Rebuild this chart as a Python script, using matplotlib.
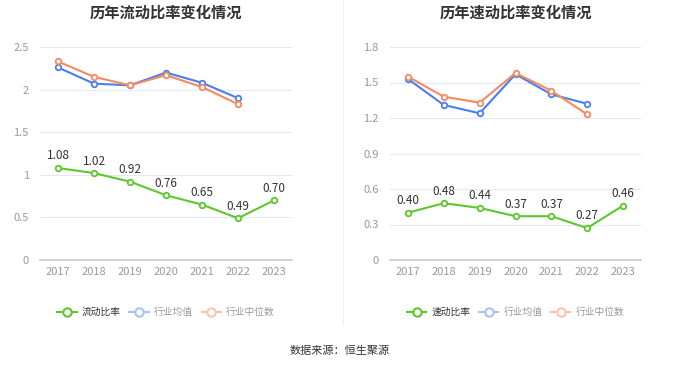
import matplotlib
matplotlib.use("Agg")
import matplotlib.pyplot as plt
from matplotlib.lines import Line2D

plt.rcParams['font.family'] = ['Noto Sans CJK SC', 'DejaVu Sans']

# Data
years = ['2017', '2018', '2019', '2020', '2021', '2022', '2023']

current_ratio = [1.08, 1.02, 0.92, 0.76, 0.65, 0.49, 0.70]
current_mean = [2.26, 2.07, 2.05, 2.20, 2.08, 1.90]
current_median = [2.33, 2.15, 2.05, 2.17, 2.03, 1.83]

quick_ratio = [0.40, 0.48, 0.44, 0.37, 0.37, 0.27, 0.46]
quick_mean = [1.53, 1.31, 1.24, 1.57, 1.40, 1.32]
quick_median = [1.55, 1.38, 1.33, 1.58, 1.43, 1.23]

GREEN = '#5cc72e'
BLUE = '#4a7ef0'
ORANGE = '#f7895f'
BLUE_LIGHT = '#a9c1f7'
ORANGE_LIGHT = '#fbc2ad'


def draw_panel(ax, title, main, mean, median, yticks, ylabels, name):
    x = list(range(len(years)))
    ax.plot(x[:len(mean)], mean, color=BLUE, lw=1.5, marker='o', ms=4,
            mfc='white', mec=BLUE, mew=1.3, zorder=3)
    ax.plot(x[:len(median)], median, color=ORANGE, lw=1.5, marker='o', ms=4,
            mfc='white', mec=ORANGE, mew=1.3, zorder=3)
    ax.plot(x, main, color=GREEN, lw=1.5, marker='o', ms=4,
            mfc='white', mec=GREEN, mew=1.3, zorder=4)
    for xi, v in zip(x, main):
        ax.annotate(f'{v:.2f}', (xi, v), xytext=(0, 4), textcoords='offset points',
                    ha='center', va='bottom', fontsize=8.5, color='#333333')

    ax.set_xlim(-0.5, len(years) - 0.5)
    ax.set_ylim(yticks[0], yticks[-1])
    ax.set_xticks(x)
    ax.set_xticklabels(years)
    ax.set_yticks(yticks)
    ax.set_yticklabels(ylabels)
    ax.tick_params(axis='both', length=0, labelsize=8, labelcolor='#999999')
    ax.tick_params(axis='x', pad=5)
    ax.tick_params(axis='y', pad=8)
    ax.grid(axis='y', color='#e3e8f4', lw=0.8)
    ax.set_axisbelow(True)
    for s in ['top', 'right', 'left']:
        ax.spines[s].set_visible(False)
    ax.spines['bottom'].set_color('#c8c8c8')
    ax.spines['bottom'].set_linewidth(1.2)
    ax.set_title(title, fontsize=11, fontweight='bold', color='#333333', pad=21)

    handles = [
        Line2D([], [], color=GREEN, lw=1.5, marker='o', ms=6, mfc='white', mec=GREEN, mew=1.5),
        Line2D([], [], color=BLUE_LIGHT, lw=1.5, marker='o', ms=6, mfc='white', mec=BLUE_LIGHT, mew=1.5),
        Line2D([], [], color=ORANGE_LIGHT, lw=1.5, marker='o', ms=6, mfc='white', mec=ORANGE_LIGHT, mew=1.5),
    ]
    pos = ax.get_position()
    leg = ax.figure.legend(handles, [name, '行业均值', '行业中位数'], ncol=3,
                           loc='center', bbox_to_anchor=(pos.x0 + pos.width / 2, 1 - 312 / 367),
                           frameon=False, fontsize=7, handlelength=2.0,
                           handletextpad=0.5, columnspacing=0.9)
    for t, c in zip(leg.get_texts(), ['#333333', '#999999', '#999999']):
        t.set_color(c)


fig = plt.figure(figsize=(6.8, 3.67), dpi=100)
ax1 = fig.add_axes([40 / 680, 107 / 367, 252 / 680, 213 / 367])
ax2 = fig.add_axes([390 / 680, 107 / 367, 251 / 680, 213 / 367])

draw_panel(ax1, '历年流动比率变化情况', current_ratio, current_mean, current_median,
           [0, 0.5, 1, 1.5, 2, 2.5], ['0', '0.5', '1', '1.5', '2', '2.5'], '流动比率')
draw_panel(ax2, '历年速动比率变化情况', quick_ratio, quick_mean, quick_median,
           [0, 0.3, 0.6, 0.9, 1.2, 1.5, 1.8], ['0', '0.3', '0.6', '0.9', '1.2', '1.5', '1.8'], '速动比率')

# separator
fig.add_artist(Line2D([343 / 680, 343 / 680], [1 - 325 / 367, 1.0], color='#eeeeee', lw=0.8))

fig.text(0.5, 1 - 351 / 367, '数据来源：恒生聚源', ha='center', va='center',
         fontsize=8, color='#333333')

fig.savefig('out.png', dpi=100, facecolor='white')
